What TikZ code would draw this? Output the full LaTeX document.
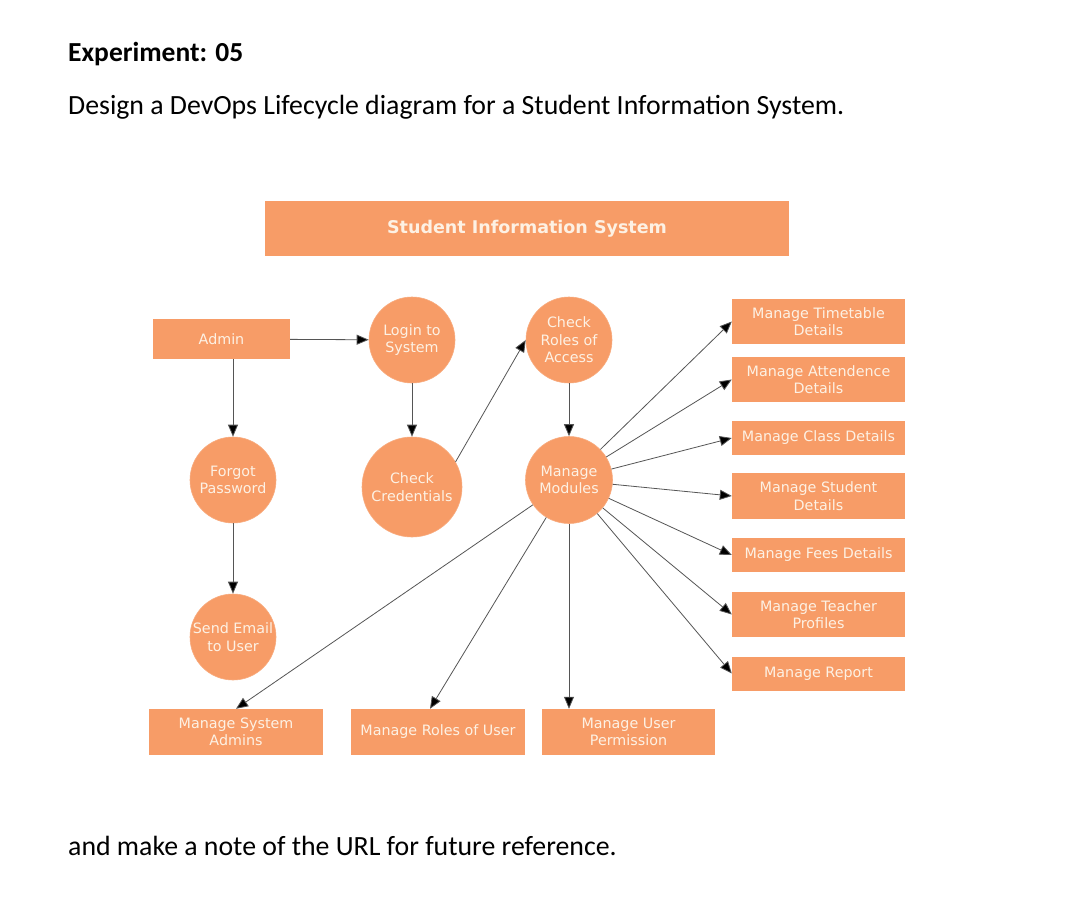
\documentclass[tikz,border=0pt]{standalone}
\usepackage{fontspec}
\setmainfont{Carlito}
\newfontfamily\dv{DejaVu Sans}
\usetikzlibrary{arrows.meta}
\definecolor{org}{HTML}{F79C67}
\definecolor{cream}{HTML}{FDF1E4}
\definecolor{ln}{HTML}{555555}
\tikzset{
  box/.style={rectangle, fill=org, draw=none, text=cream, align=center, inner sep=0pt,
    font=\dv\fontsize{14.3}{17.5}\selectfont},
  circ/.style={circle, fill=org, draw=org!85!white, line width=0.6pt, text=cream, align=center, inner sep=0pt,
    font=\dv\fontsize{14.3}{17.5}\selectfont},
  arr/.style={draw=ln, line width=0.8pt, -{Triangle[length=12pt,width=10pt,fill=black]}},
  doc/.style={anchor=base west, inner sep=0pt, text=black}
}
\begin{document}
\begin{tikzpicture}[x={(1pt,0)}, y={(0,-1pt)}]
\useasboundingbox[fill=white] (0,0) rectangle (1080,923);

% document text
\node[doc, font=\bfseries\fontsize{27.5}{30}\selectfont] (exp) at (68,62) {Experiment: 05};
\node[doc, font=\fontsize{27.8}{30}\selectfont] (task) at (68,115) {Design a DevOps Lifecycle diagram for a Student Information System.};
\node[doc, font=\fontsize{27.8}{30}\selectfont] (note) at (68,855) {and make a note of the URL for future reference.};

% title
\node[box, minimum width=524pt, minimum height=55pt, font=\dv\bfseries\fontsize{17.5}{20}\selectfont] (sis) at (527,228.5) {Student Information System};

% row 1
\node[box, minimum width=137pt, minimum height=40pt] (admin) at (221.5,339) {Admin};
\node[circ, minimum size=86pt] (login) at (412,340) {Login to\\System};
\node[circ, minimum size=86pt] (roles) at (569,340) {Check\\Roles of\\Access};

% row 2
\node[circ, minimum size=86pt] (forgot) at (233,480) {Forgot\\Password};
\node[circ, minimum size=100pt] (cred) at (412,487) {Check\\Credentials};
\node[circ, minimum size=87pt] (mm) at (569,480) {Manage\\Modules};

% row 3
\node[circ, minimum size=86pt] (email) at (233,637) {Send Email\\to User};

% bottom row
\node[box, minimum width=174pt, minimum height=46pt] (sa) at (236,732) {Manage System\\Admins};
\node[box, minimum width=174pt, minimum height=46pt] (ru) at (438,732) {Manage Roles of User};
\node[box, minimum width=173pt, minimum height=46pt] (up) at (628.5,732) {Manage User\\Permission};

% right column
\node[box, minimum width=173pt, minimum height=45pt] (tt) at (818.5,321.5) {Manage Timetable\\Details};
\node[box, minimum width=173pt, minimum height=45pt] (att) at (818.5,379.5) {Manage Attendence\\Details};
\node[box, minimum width=173pt, minimum height=34pt] (cls) at (818.5,438) {Manage Class Details};
\node[box, minimum width=173pt, minimum height=46pt] (stu) at (818.5,496) {Manage Student\\Details};
\node[box, minimum width=173pt, minimum height=34pt] (fee) at (818.5,555) {Manage Fees Details};
\node[box, minimum width=173pt, minimum height=45pt] (tch) at (818.5,614.5) {Manage Teacher\\Profiles};
\node[box, minimum width=173pt, minimum height=34pt] (rep) at (818.5,673.5) {Manage Report};

% connectors
\draw[arr] (admin) -- (login);
\draw[arr] (admin.south -| forgot) -- (forgot);
\draw[arr] (forgot) -- (email);
\draw[arr] (login) -- (cred);
\draw[arr] (cred.30) -- (roles.west);
\draw[arr] (roles) -- (mm);

\draw[arr] (mm) -- (tt.west);
\draw[arr] (mm) -- (att.west);
\draw[arr] (mm) -- (cls.west);
\draw[arr] (mm) -- (stu.west);
\draw[arr] (mm) -- (fee.west);
\draw[arr] (mm) -- (tch.west);
\draw[arr] (mm) -- (rep.west);

\draw[arr] (mm) -- (sa.north);
\draw[arr] (mm) -- ([xshift=-8pt]ru.north);
\draw[arr] (mm) -- (up.north -| mm);
\end{tikzpicture}
\end{document}
